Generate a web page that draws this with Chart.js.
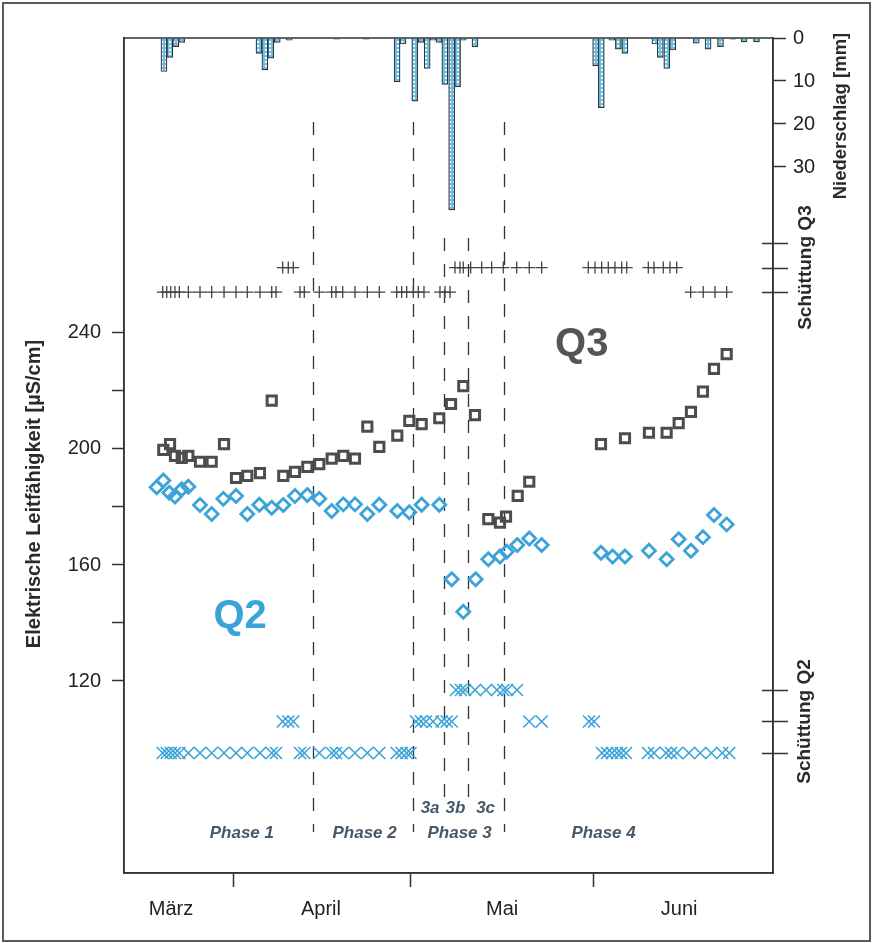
<!DOCTYPE html>
<html><head><meta charset="utf-8">
<script src="https://cdn.jsdelivr.net/npm/chart.js@4.4.1/dist/chart.umd.min.js"></script>
<style>html,body{margin:0;padding:0;background:#fff;}canvas{display:block;}</style>
</head><body>
<canvas id="c" width="873" height="943"></canvas>
<script>
// ---- data (x = day counted from 1 March = 0) ----
const monthLabels = ['März', 'April', 'Mai', 'Juni'];
const monthLabelDays = [20.5, 45.9, 76.6, 106.6];
const monthStartDays = [31, 61, 92];
const ecTicks = [120, 140, 160, 180, 200, 220, 240];
const rainTicks = [0, 10, 20, 30];
const flowClasses = [1, 2, 3];

const rainDays = [19.3,20.3,21.3,22.3,35.4,36.4,37.4,38.5,40.5,48.6,53.6,58.8,59.8,61.8,62.85,63.9,64.9,65.9,66.9,68.05,69.05,70.0,72.0,92.45,93.4,95.2,96.3,97.4,102.5,103.4,104.5,105.5,109.5,111.5,113.6,115.7,117.6,119.7];
const rainMM   = [7.8,4.5,2.0,1.0,3.6,7.4,4.7,1.0,0.5,0.3,0.3,10.2,1.4,14.7,1.0,7.1,0.5,1.0,10.8,40,11.3,0.5,2.0,6.5,16.2,0.5,2.6,3.6,1.4,4.5,7.1,2.8,1.2,2.6,2.0,0.3,0.9,0.9];

const q3Days = [19.19,20.33,21.17,22.31,23.43,25.41,27.39,29.48,31.51,33.42,35.57,37.56,39.52,41.5,43.59,45.62,47.72,49.69,51.67,53.76,55.79,58.84,60.87,62.97,65.95,67.94,70.02,72.0,74.26,76.24,77.26,79.24,81.2,93.35,97.42,101.48,104.48,106.52,108.6,110.63,112.5,114.65];
const q3EC   = [199.7,201.7,197.6,196.9,197.6,195.6,195.6,201.7,190.0,190.7,191.7,216.7,190.7,192.1,193.8,194.8,196.7,197.6,196.7,207.7,200.7,204.6,209.7,208.6,210.6,215.5,221.7,211.7,175.8,174.6,176.7,183.8,188.7,201.7,203.7,205.6,205.6,208.9,212.8,219.8,227.6,232.7];

const q2Days = [18.07,19.19,20.21,21.17,22.31,23.43,25.41,27.39,29.36,31.51,33.42,35.46,37.56,39.52,41.5,43.59,45.62,47.72,49.69,51.67,53.76,55.79,58.84,60.87,62.97,65.95,68.06,70.02,72.12,74.26,76.24,77.37,79.17,81.2,83.3,93.35,95.33,97.42,101.48,104.48,106.52,108.6,110.63,112.5,114.65];
const q2EC   = [186.8,189.1,184.9,183.6,186.1,187.0,180.7,177.6,182.8,183.8,177.6,180.8,179.7,180.7,183.8,184.1,182.8,178.6,180.9,180.9,177.6,180.8,178.6,178.2,180.8,180.8,155.1,143.9,155.1,162.0,162.9,164.6,166.9,169.1,166.9,164.2,162.9,162.9,164.9,162.0,168.9,164.9,169.6,177.2,174.0];

const q3FlowDays  = [19.09,19.77,20.45,21.17,21.90,23.43,25.41,27.39,29.48,31.51,33.42,35.57,37.56,38.29,39.42,40.37,41.22,42.35,43.08,45.62,47.72,48.45,49.59,51.67,53.76,55.79,58.74,59.58,60.43,61.55,62.40,63.36,66.07,66.92,67.77,68.61,69.46,70.02,71.27,73.14,74.83,76.80,79.07,81.20,83.30,91.20,92.34,93.47,94.59,95.72,96.86,97.71,101.37,102.33,103.91,105.04,106.18,108.55,110.68,112.67,114.65];
const q3FlowClass = [1,1,1,1,1,1,1,1,1,1,1,1,1,1,2,2,2,1,1,1,1,1,1,1,1,1,1,1,1,1,1,1,1,1,1,2,2,2,2,2,2,2,2,2,2,2,2,2,2,2,2,2,2,2,2,2,2,1,1,1,1];

const q2FlowDays  = [19.09,19.77,20.45,21.17,21.90,23.43,25.41,27.39,29.48,31.51,33.42,35.57,37.56,38.29,39.42,40.37,41.22,42.35,43.08,45.62,47.72,48.45,49.59,51.67,53.76,55.79,58.74,59.58,60.43,61.07,62.01,62.86,63.70,64.89,66.36,67.21,68.06,68.78,69.63,70.31,72.0,73.87,75.73,76.80,77.43,79.12,81.20,83.30,91.32,92.17,93.52,94.37,95.22,96.06,96.74,97.59,101.32,102.33,104.37,105.21,106.23,108.26,110.18,112.04,113.90,115.10];
const q2FlowClass = [1,1,1,1,1,1,1,1,1,1,1,1,1,1,2,2,2,1,1,1,1,1,1,1,1,1,1,1,1,1,2,2,2,2,2,2,2,3,3,3,3,3,3,3,3,3,2,2,2,2,1,1,1,1,1,1,1,1,1,1,1,1,1,1,1,1];

const phaseNames = ['Phase 1', 'Phase 2', 'Phase 3', 'Phase 4'];
const phaseLabelDays = [32.5, 53.3, 69.4, 93.8];
const subPhaseNames = ['3a', '3b', '3c'];
const subPhaseLabelDays = [64.4, 68.7, 73.8];
const phaseBoundaryDays = [44.55, 61.44, 76.97];
const subPhaseBoundaryDays = [66.75, 70.87];

// ---- styles ----
const FONT = 'Arial, "Liberation Sans", Helvetica, sans-serif';
const BLUE = '#3aa4d8';
const GRAY = '#4d4d4d';
const INK = '#2a2a2a';
const PHASE = '#46596b';

function meshPattern() {
  const c = document.createElement('canvas'); c.width = 4; c.height = 4;
  const g = c.getContext('2d');
  g.fillStyle = '#6cc0e6'; g.fillRect(0, 0, 4, 4);
  g.fillStyle = '#eef9fd'; g.fillRect(1, 1, 2, 2);
  return g.createPattern(c, 'repeat');
}
const pts = (xs, ys) => xs.map((x, i) => ({ x: x, y: ys[i] }));

function vText(ctx, text, x, y, font, color) {
  ctx.save(); ctx.translate(x, y); ctx.rotate(-Math.PI / 2);
  ctx.font = font; ctx.fillStyle = color; ctx.textAlign = 'center'; ctx.textBaseline = 'middle';
  ctx.fillText(text, 0, 0); ctx.restore();
}

const decor = {
  id: 'decor',
  beforeDraw(chart) {
    const ctx = chart.ctx;
    ctx.save(); ctx.fillStyle = '#fff'; ctx.fillRect(0, 0, chart.width, chart.height);
    ctx.strokeStyle = '#5a5a5a'; ctx.lineWidth = 2; ctx.strokeRect(3, 3, chart.width - 6, chart.height - 5);
    ctx.restore();
  },
  beforeDatasetsDraw(chart) {
    const ctx = chart.ctx, a = chart.chartArea, xs = chart.scales.x;
    ctx.save(); ctx.strokeStyle = '#333'; ctx.lineWidth = 1.3; ctx.setLineDash([13, 13]);
    phaseBoundaryDays.forEach(d => { const px = Math.round(xs.getPixelForValue(d)) + 0.5; ctx.beginPath(); ctx.moveTo(px, a.top + 84); ctx.lineTo(px, a.bottom - 41); ctx.stroke(); });
    subPhaseBoundaryDays.forEach(d => { const px = Math.round(xs.getPixelForValue(d)) + 0.5; ctx.beginPath(); ctx.moveTo(px, a.top + 200); ctx.lineTo(px, a.bottom - 75); ctx.stroke(); });
    ctx.restore();
  },
  afterDraw(chart) {
    const ctx = chart.ctx, a = chart.chartArea, xs = chart.scales.x, ys = chart.scales.y;
    ctx.save();
    ctx.strokeStyle = '#333'; ctx.lineWidth = 1.5; ctx.strokeRect(a.left, a.top, a.right - a.left, a.bottom - a.top);
    // Schüttung class ticks on the right axis
    ctx.lineWidth = 1.5;
    ['yQ3', 'yQ2'].forEach(id => {
      const s = chart.scales[id];
      flowClasses.forEach(c => { const py = Math.round(s.getPixelForValue(c)) + 0.5; ctx.beginPath(); ctx.moveTo(a.right - 11, py); ctx.lineTo(a.right + 15, py); ctx.stroke(); });
    });
    // phase labels
    ctx.font = 'italic bold 17px ' + FONT; ctx.fillStyle = PHASE; ctx.textAlign = 'center'; ctx.textBaseline = 'alphabetic';
    phaseNames.forEach((t, i) => ctx.fillText(t, xs.getPixelForValue(phaseLabelDays[i]), a.bottom - 35));
    subPhaseNames.forEach((t, i) => ctx.fillText(t, xs.getPixelForValue(subPhaseLabelDays[i]), a.bottom - 60));
    // big station labels
    ctx.font = 'bold 40px ' + FONT; ctx.textBaseline = 'middle';
    ctx.fillStyle = '#555'; ctx.fillText('Q3', xs.getPixelForValue(90.1), ys.getPixelForValue(235.9));
    ctx.fillStyle = BLUE; ctx.fillText('Q2', xs.getPixelForValue(32.2), ys.getPixelForValue(142.1));
    // axis titles
    vText(ctx, 'Elektrische Leitfähigkeit [µS/cm]', 34, 494, 'bold 20px ' + FONT, INK);
    vText(ctx, 'Niederschlag [mm]', 841, 116, 'bold 18.5px ' + FONT, INK);
    vText(ctx, 'Schüttung Q3', 806, chart.scales.yQ3.getPixelForValue(2), 'bold 19px ' + FONT, INK);
    vText(ctx, 'Schüttung Q2', 805, chart.scales.yQ2.getPixelForValue(2), 'bold 19px ' + FONT, INK);
    ctx.restore();
  }
};

new Chart(document.getElementById('c'), {
  type: 'scatter',
  data: {
    datasets: [
      { type: 'bar', label: 'Niederschlag', data: pts(rainDays, rainMM), xAxisID: 'x', yAxisID: 'yP',
        backgroundColor: meshPattern(), borderColor: '#333', borderWidth: 1.2, barThickness: 6, borderSkipped: 'start' },
      { label: 'Q3', data: pts(q3Days, q3EC), yAxisID: 'y', pointStyle: 'rect', pointRadius: 6.5, pointHoverRadius: 6.5,
        borderWidth: 3, borderColor: GRAY, backgroundColor: 'rgba(0,0,0,0)' },
      { label: 'Q2', data: pts(q2Days, q2EC), yAxisID: 'y', pointStyle: 'rectRot', pointRadius: 6.5, pointHoverRadius: 6.5,
        borderWidth: 2.8, borderColor: BLUE, backgroundColor: 'rgba(0,0,0,0)' },
      { label: 'Schüttung Q3', data: pts(q3FlowDays, q3FlowClass), yAxisID: 'yQ3', pointStyle: 'cross', pointRadius: 6, pointHoverRadius: 6,
        borderWidth: 1.3, borderColor: '#444', backgroundColor: '#444' },
      { label: 'Schüttung Q2', data: pts(q2FlowDays, q2FlowClass), yAxisID: 'yQ2', pointStyle: 'crossRot', pointRadius: 8.5, pointHoverRadius: 8.5,
        borderWidth: 1.6, borderColor: BLUE, backgroundColor: BLUE }
    ]
  },
  options: {
    responsive: false, animation: false, devicePixelRatio: 1, events: [],
    layout: { padding: { top: 38, left: 0, right: 0, bottom: 0 } },
    plugins: { legend: { display: false }, tooltip: { enabled: false } },
    scales: {
      x: {
        type: 'linear', position: 'bottom', min: 12.53, max: 122.5, offset: false,
        afterBuildTicks: s => { s.ticks = monthLabelDays.concat(monthStartDays).sort((p, q) => p - q).map(v => ({ value: v })); },
        afterFit: s => { s.height = 70; },
        ticks: { autoSkip: false, maxRotation: 0, padding: 10, color: '#222', font: { family: FONT, size: 20 },
          callback: v => { const i = monthLabelDays.indexOf(v); return i >= 0 ? monthLabels[i] : ''; } },
        grid: { drawOnChartArea: false, drawTicks: true, tickLength: 14, tickWidth: 1.5, offset: false,
          tickColor: c => (c.tick && monthStartDays.includes(c.tick.value)) ? '#333' : 'rgba(0,0,0,0)' },
        border: { display: true, color: '#333', width: 1.5 }
      },
      y: {
        type: 'linear', position: 'left', min: 53.8, max: 341.7,
        afterBuildTicks: s => { s.ticks = ecTicks.map(v => ({ value: v })); },
        afterFit: s => { s.width = 124; },
        ticks: { padding: 11, color: '#222', font: { family: FONT, size: 20 }, callback: v => (v % 40 === 0 ? String(v) : '') },
        grid: { drawOnChartArea: false, drawTicks: true, tickLength: 12, tickWidth: 1.5, tickColor: '#333' },
        border: { display: true, color: '#333', width: 1.5 }
      },
      yP: {
        type: 'linear', position: 'right', reverse: true, min: 0, max: 194.2,
        afterBuildTicks: s => { s.ticks = rainTicks.map(v => ({ value: v })); },
        afterFit: s => { s.width = 100; },
        ticks: { padding: 7, color: '#222', font: { family: FONT, size: 20 } },
        grid: { drawOnChartArea: false, drawTicks: true, tickLength: 13, tickWidth: 1.5, tickColor: '#333' },
        border: { display: true, color: '#333', width: 1.5 }
      },
      yQ3: { type: 'linear', position: 'right', display: false, min: -22.71, max: 11.37 },
      yQ2: { type: 'linear', position: 'right', display: false, min: -2.81, max: 23.70 }
    }
  },
  plugins: [decor]
});
</script>
</body></html>
